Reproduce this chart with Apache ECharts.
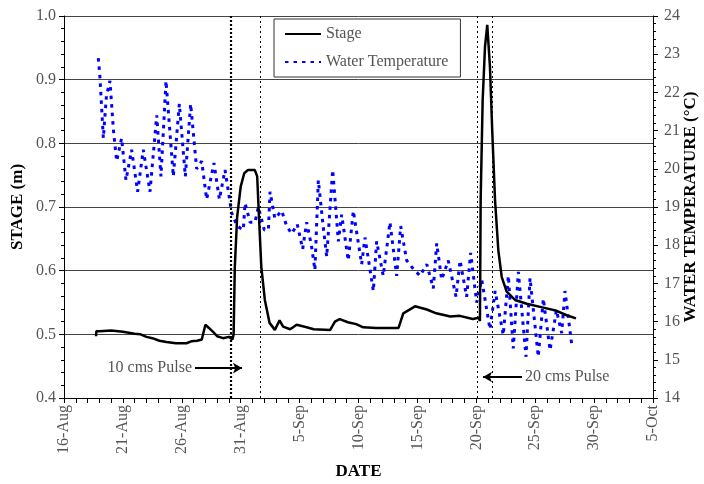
<!DOCTYPE html>
<html><head><meta charset="utf-8">
<script src="https://cdn.jsdelivr.net/npm/echarts@6/dist/echarts.min.js"></script>
<style>html,body{margin:0;padding:0;background:#fff}#c{width:704px;height:484px}</style>
</head><body><div id="c"></div>
<script>
// x values are days since 16-Aug
const dateLabels = ['16-Aug','21-Aug','26-Aug','31-Aug','5-Sep','10-Sep','15-Sep','20-Sep','25-Sep','30-Sep','5-Oct'];
const stageDays = [2.72,2.75,3.0,4.0,5.0,6.0,6.5,7.0,7.5,8.1,8.7,9.5,10.4,10.8,11.3,11.7,12.0,12.3,12.7,13.0,13.5,14.0,14.3,14.4,14.5,14.7,15.0,15.3,15.6,16.2,16.4,16.55,16.75,17.05,17.45,17.9,18.3,18.6,19.2,19.75,20.6,21.2,22.6,23.0,23.4,24.1,24.8,25.4,26.5,28.4,28.8,29.8,30.8,31.6,32.8,33.6,34.7,35.2,35.31,35.37,35.54,35.74,35.93,36.16,36.36,36.59,36.87,37.16,37.58,38.29,39.28,40.69,41.82,42.67,43.46];
const stageValues = [0.497,0.505,0.505,0.506,0.504,0.501,0.500,0.496,0.494,0.490,0.488,0.486,0.486,0.489,0.490,0.492,0.515,0.510,0.503,0.497,0.494,0.496,0.492,0.500,0.606,0.685,0.732,0.753,0.758,0.758,0.748,0.685,0.606,0.554,0.518,0.507,0.522,0.512,0.508,0.515,0.511,0.508,0.507,0.520,0.524,0.519,0.516,0.511,0.510,0.510,0.533,0.544,0.539,0.533,0.528,0.529,0.524,0.526,0.521,0.711,0.868,0.952,0.986,0.920,0.816,0.711,0.632,0.590,0.567,0.554,0.548,0.542,0.537,0.530,0.525];
const tempDays = [2.91,3.05,3.34,3.6,3.9,4.2,4.47,4.89,5.26,5.74,6.25,6.73,7.3,7.87,8.23,8.66,9.28,9.79,10.3,10.75,11.26,11.69,12.11,12.73,13.19,13.67,14.23,14.7,15.22,15.37,15.8,16.21,16.5,17.0,17.35,17.49,17.9,18.48,18.9,19.33,19.8,20.26,20.6,21.0,21.3,21.59,22.0,22.3,22.81,23.29,23.57,24.13,24.56,25.27,25.55,26.26,26.54,27.1,27.67,28.24,28.58,29.09,29.6,30.22,30.8,31.35,31.64,32.06,32.62,33.28,33.62,34.18,34.52,35.03,35.46,36.16,36.6,37.29,37.72,38.14,38.57,39.22,39.56,40.26,40.69,41.26,41.8,42.25,42.53,43.1];
const tempValues = [22.9,22.4,20.8,21.9,22.3,21.0,20.2,20.8,19.7,20.5,19.4,20.5,19.4,21.4,19.8,22.3,19.8,21.7,19.8,21.7,20.0,20.2,19.2,20.15,19.2,19.97,18.85,18.5,18.4,19.1,18.6,18.6,19.0,18.4,18.4,19.4,18.7,18.9,18.5,18.3,18.55,17.9,18.6,18.0,17.35,19.7,18.5,17.7,19.97,18.1,18.8,17.6,18.9,17.5,18.2,16.8,18.1,17.2,18.6,17.2,18.5,17.6,17.4,17.2,17.5,16.87,18.05,17.1,17.6,16.65,17.6,16.65,17.8,16.5,17.1,15.8,16.8,15.65,17.2,15.3,17.3,15.08,17.14,15.08,16.6,15.25,16.3,15.7,16.8,15.4];
const pulseLineDays = [14.18,16.64,35.06,36.33];
const pulse10 = {text:'10 cms Pulse', from:[11.12,0.447], to:[15.11,0.447]};
const pulse20 = {text:'20 cms Pulse', from:[38.88,0.433], to:[35.57,0.433]};

const FONT = "'Liberation Serif','DejaVu Serif',serif";
const zip = (a,b) => a.map((v,i)=>[v,b[i]]);

const chart = echarts.init(document.getElementById('c'), null, {renderer:'canvas'});
const vlines = pulseLineDays.map((d,i)=>({xAxis:d, lineStyle:{color:'#000', width: i===0?2.2:1, type: i===0?[2,2]:[2,3]}, label:{show:false}}));
function arrow(p){
  return [
    {coord:p.from, symbol:'none', label:{show:true, position:'start', formatter:p.text, color:'#555', fontSize:16, fontFamily:FONT, distance:3}},
    {coord:p.to, symbol:'arrow', symbolSize:[8,9], lineStyle:{color:'#000', width:2, type:'solid'}}
  ];
}
chart.setOption({
  animation:false,
  textStyle:{fontFamily:FONT},
  grid:{left:64, right:51, top:16, bottom:86, containLabel:false, outerBoundsMode:'none'},
  legend:{
    left:274, top:19, orient:'vertical',
    padding:[7,12,7,10], itemGap:12, itemWidth:36, itemHeight:14,
    backgroundColor:'#fff', borderColor:'#333', borderWidth:1,
    itemStyle:{opacity:0},
    textStyle:{fontSize:16, color:'#555', fontFamily:FONT},
    data:['Stage','Water Temperature']
  },
  xAxis:{
    type:'value', min:0, max:50, interval:5,
    name:'DATE', nameLocation:'middle', nameGap:65, nameMoveOverlap:false,
    nameTextStyle:{fontSize:17, fontWeight:'bold', color:'#000', fontFamily:FONT},
    axisLine:{show:true, lineStyle:{color:'#000', width:1}},
    axisTick:{show:true, length:5, lineStyle:{color:'#000'}},
    minorTick:{show:true, splitNumber:5, length:5, lineStyle:{color:'#000'}},
    axisLabel:{rotate:90, fontSize:16, color:'#555', fontFamily:FONT, margin:7,
      formatter:v=>dateLabels[Math.round(v/5)]},
    splitLine:{show:false}
  },
  yAxis:[{
    type:'value', min:0.4, max:1.0, interval:0.1, position:'left',
    name:'STAGE (m)', nameLocation:'middle', nameGap:38, nameRotate:90, nameMoveOverlap:false,
    nameTextStyle:{fontSize:17, fontWeight:'bold', color:'#000', fontFamily:FONT},
    axisLine:{show:true, lineStyle:{color:'#000', width:1}},
    axisTick:{show:true, length:5, lineStyle:{color:'#000'}},
    minorTick:{show:true, splitNumber:5, length:3, lineStyle:{color:'#000'}},
    axisLabel:{fontSize:16, color:'#555', fontFamily:FONT, margin:8, formatter:v=>v.toFixed(1)},
    splitLine:{show:true, lineStyle:{color:'#444', width:1}}
  },{
    type:'value', min:14, max:24, interval:1, position:'right',
    name:'WATER TEMPERATURE (°C)', nameLocation:'middle', nameGap:29, nameRotate:90, nameMoveOverlap:false,
    nameTextStyle:{fontSize:17, fontWeight:'bold', color:'#000', fontFamily:FONT},
    axisLine:{show:true, lineStyle:{color:'#000', width:1}},
    axisTick:{show:true, length:5, lineStyle:{color:'#000'}},
    minorTick:{show:true, splitNumber:5, length:3, lineStyle:{color:'#000'}},
    axisLabel:{fontSize:16, color:'#555', fontFamily:FONT, margin:11},
    splitLine:{show:false}
  }],
  series:[{
    name:'Stage', type:'line', yAxisIndex:0, symbol:'none', showSymbol:false,
    data:zip(stageDays, stageValues),
    lineStyle:{color:'#000', width:2.5},
    itemStyle:{color:'#000'},
    z:3,
    markLine:{
      silent:true, symbol:['none','none'], animation:false,
      data:[...vlines, arrow(pulse10), arrow(pulse20)]
    }
  },{
    name:'Water Temperature', type:'line', yAxisIndex:1, symbol:'none', showSymbol:false,
    data:zip(tempDays, tempValues),
    lineStyle:{color:'#0000ff', width:3, type:[3.5,5]},
    itemStyle:{color:'#0000ff'},
    z:2
  }]
});
</script>
</body></html>
